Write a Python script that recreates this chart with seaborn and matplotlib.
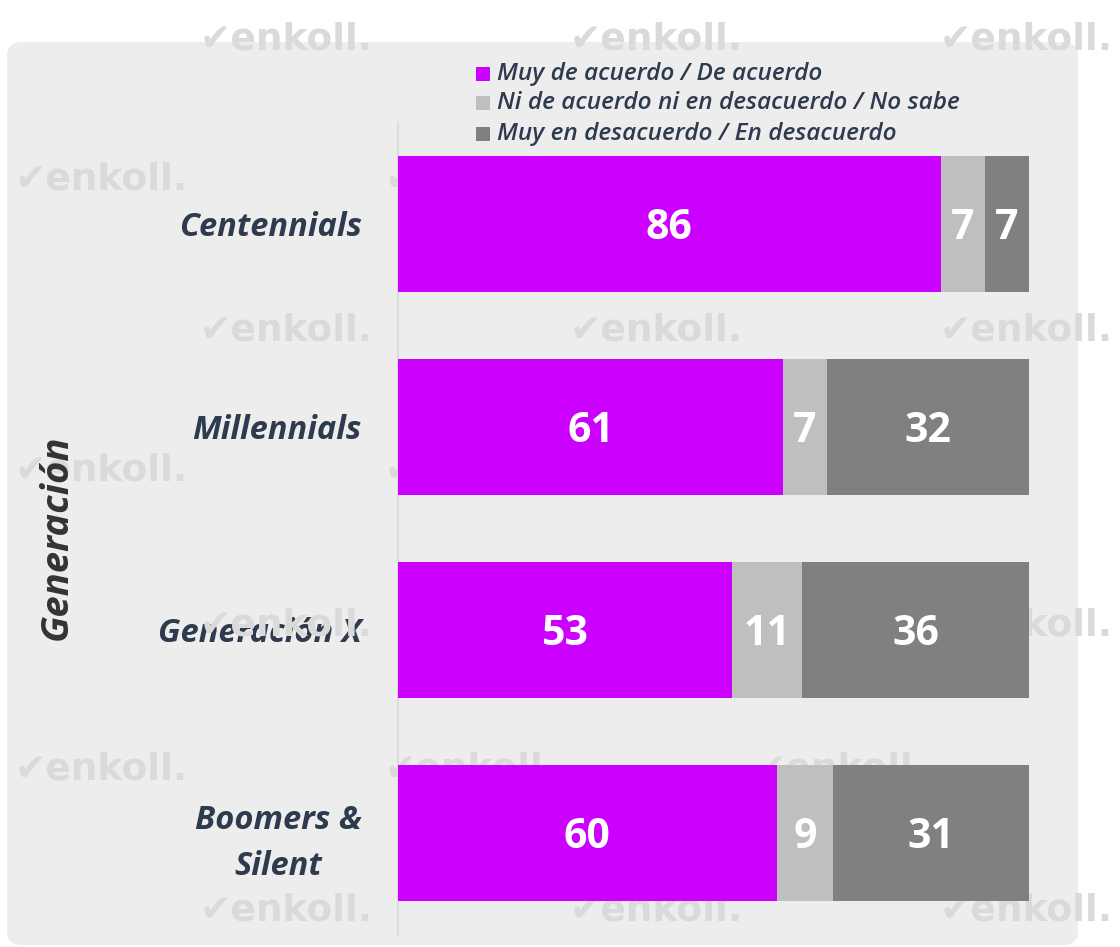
import numpy as np
import pandas as pd
import matplotlib
matplotlib.use("Agg")
import matplotlib.pyplot as plt
from matplotlib.patches import FancyBboxPatch, Rectangle
import seaborn as sns

# ---- data ----
categories = ["Centennials", "Millennials", "Generación X", "Boomers &\nSilent"]
acuerdo = [86, 61, 53, 60]
neutral = [7, 7, 11, 9]
desacuerdo = [7, 32, 36, 31]
series_names = ["Muy de acuerdo / De acuerdo",
                "Ni de acuerdo ni en desacuerdo / No sabe",
                "Muy en desacuerdo / En desacuerdo"]
axis_title = "Generación"

colors = ["#CC00FF", "#BFBFBF", "#808080"]
navy = "#2E3A4E"

sns.set_theme(style="white")
plt.rcParams["font.family"] = ["Lato", "DejaVu Sans"]

W, H = 1120, 947
fig = plt.figure(figsize=(W / 100, H / 100), dpi=100)
fig.patch.set_facecolor("white")

# rounded gray panel
panel = FancyBboxPatch((7 / W, (H - 945) / H), (1078 - 7) / W, (945 - 42) / H,
                       boxstyle="round,pad=0,rounding_size=0.014",
                       transform=fig.transFigure, facecolor="#EDEDED",
                       edgecolor="none", zorder=-5)
fig.patches.append(panel)

left, right, top, bottom = 398, 1029, 122.5, 934.5
ax = fig.add_axes([left / W, (H - bottom) / H, (right - left) / W, (bottom - top) / H])
ax.set_facecolor("none")

df = pd.DataFrame({"cat": categories, "a": acuerdo, "n": neutral, "d": desacuerdo})
df["c1"] = df["a"]
df["c2"] = df["a"] + df["n"]
df["c3"] = df["a"] + df["n"] + df["d"]

for col, colr in zip(["c3", "c2", "c1"], colors[::-1]):
    sns.barplot(data=df, x=col, y="cat", orient="h", color=colr, width=0.67,
                saturation=1, ax=ax, zorder=3, linewidth=0)

# value labels
for i, row in df.iterrows():
    segs = [(0, row["a"]), (row["c1"], row["n"]), (row["c2"], row["d"])]
    for start, val in segs:
        ax.text(start + val / 2, i + 0.02, f"{val}", ha="center", va="center",
                color="white", fontsize=29.5, fontweight="bold", zorder=5,
                family=["Open Sans", "DejaVu Sans"])

ax.set_xlim(0, 100)
ax.set_ylim(3.5, -0.5)
ax.set_xlabel("")
ax.set_ylabel("")
ax.set_xticks([])
for s in ["top", "right", "bottom"]:
    ax.spines[s].set_visible(False)
ax.spines["left"].set_color("#D9D9D9")
ax.spines["left"].set_linewidth(1.2)
ax.tick_params(axis="y", length=0, pad=26)
ax.set_yticks(range(len(categories)))
ax.set_yticklabels(categories, fontsize=23.5, fontweight="bold", style="italic",
                   color=navy, ha="right", multialignment="center",
                   linespacing=1.5, family=["Open Sans", "DejaVu Sans"])

# axis title
fig.text(57 / W, 1 - 537 / H, axis_title, rotation=90, ha="center", va="center",
         fontsize=27.5, fontweight="bold", style="italic", color="#333333",
         family=["Open Sans", "DejaVu Sans"])

# legend (manual, top)
leg_y = [74, 103, 134]
for name, colr, yy in zip(series_names, colors, leg_y):
    fig.patches.append(Rectangle((476 / W, 1 - (yy + 7) / H), 14 / W, 14 / H,
                                 transform=fig.transFigure, facecolor=colr,
                                 edgecolor="none"))
    fig.text(497 / W, 1 - yy / H, name, ha="left", va="center", fontsize=17.6,
             style="italic", color=navy, fontweight="semibold",
             family=["Open Sans", "DejaVu Sans"])

# watermarks (behind bars)
wm_rows_a = [40, 330, 625, 910]
wm_rows_b = [180, 470, 770]
for yy in wm_rows_a:
    for xx in [200, 570, 940]:
        ax.text(xx / W, 1 - yy / H, "\u2714enkoll.", transform=fig.transFigure,
                ha="left", va="center", fontsize=27, fontweight="bold",
                color="#DADADA", zorder=1, clip_on=False,
                family=["DejaVu Sans"])
for yy in wm_rows_b:
    for xx in [15, 385, 755]:
        ax.text(xx / W, 1 - yy / H, "\u2714enkoll.", transform=fig.transFigure,
                ha="left", va="center", fontsize=27, fontweight="bold",
                color="#DADADA", zorder=1, clip_on=False,
                family=["DejaVu Sans"])

fig.savefig("out.png", dpi=100)
